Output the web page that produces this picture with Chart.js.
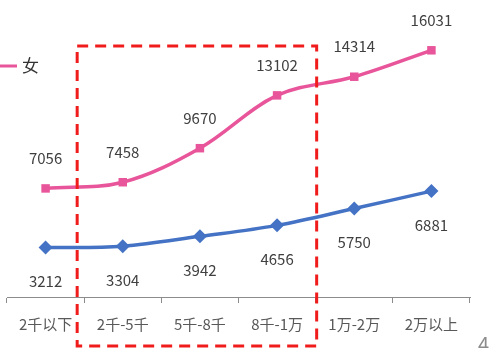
<!DOCTYPE html>
<html>
<head>
<meta charset="utf-8">
<script src="https://cdn.jsdelivr.net/npm/chart.js@4"></script>
<style>
  html, body { margin: 0; padding: 0; background: #fff; }
  #wrap { width: 493px; height: 348px; overflow: hidden; }
</style>
</head>
<body>
<div id="wrap"><canvas id="incomeChart" width="493" height="348"></canvas></div>
<script>
// income brackets on the x axis
const categories = ['2千以下', '2千-5千', '5千-8千', '8千-1万', '1万-2万', '2万以上'];
const femaleValues = [7056, 7458, 9670, 13102, 14314, 16031];
const maleValues = [3212, 3304, 3942, 4656, 5750, 6881];
const seriesNames = ['女', '男'];
// brackets inside the dashed box (first and last index)
const highlightRange = [1, 3];

const PINK = '#e8559a';
const BLUE = '#4472c4';
const FONT = "'Noto Sans CJK SC', 'Noto Sans', sans-serif";

// value labels: pink above the points, blue below
const valueLabels = {
    id: 'valueLabels',
    afterDatasetsDraw(chart) {
        const ctx = chart.ctx;
        ctx.save();
        ctx.font = '15px ' + FONT;
        ctx.fillStyle = '#404040';
        ctx.textAlign = 'center';
        ctx.textBaseline = 'middle';
        chart.data.datasets.forEach((ds, i) => {
            const meta = chart.getDatasetMeta(i);
            const dy = i === 0 ? -30 : 34;
            meta.data.forEach((pt, j) => {
                ctx.fillText(String(ds.data[j]), pt.x, pt.y + dy);
            });
        });
        ctx.restore();
    }
};

// red dashed frame around the middle brackets, legend entry, page number
const extras = {
    id: 'extras',
    afterDraw(chart) {
        const ctx = chart.ctx;
        const x = chart.scales.x;
        const left = x.getPixelForValue(highlightRange[0] - 0.5) - 7;
        const right = x.getPixelForValue(highlightRange[1] + 0.5) + 1;
        const top = chart.chartArea.top + 26;
        const bottom = chart.height - 2;
        ctx.save();
        ctx.strokeStyle = '#f01c1c';
        ctx.lineWidth = 3;
        ctx.setLineDash([11, 7]);
        ctx.strokeRect(left, top, right - left, bottom - top);
        ctx.setLineDash([]);

        // legend (only the first entry fits)
        ctx.strokeStyle = PINK;
        ctx.lineWidth = 3;
        ctx.beginPath();
        ctx.moveTo(0, 66);
        ctx.lineTo(17, 66);
        ctx.stroke();
        ctx.font = '17px ' + FONT;
        ctx.fillStyle = '#333';
        ctx.textBaseline = 'middle';
        ctx.fillText(seriesNames[0], 22, 66);

        ctx.font = '20px ' + FONT;
        ctx.fillStyle = '#8c8c8c';
        ctx.fillText('4', 478, 344);
        ctx.restore();
    }
};

new Chart(document.getElementById('incomeChart').getContext('2d'), {
    type: 'line',
    data: {
        labels: categories,
        datasets: [{
            label: seriesNames[0],
            data: femaleValues,
            borderColor: PINK,
            backgroundColor: PINK,
            borderWidth: 3.5,
            pointStyle: 'rect',
            pointRadius: 6,
            pointBorderWidth: 0,
            tension: 0.35
        }, {
            label: seriesNames[1],
            data: maleValues,
            borderColor: BLUE,
            backgroundColor: BLUE,
            borderWidth: 3.5,
            pointStyle: 'rectRot',
            pointRadius: 7,
            pointBorderWidth: 0,
            tension: 0.35
        }]
    },
    options: {
        responsive: false,
        animation: false,
        devicePixelRatio: 1,
        layout: { padding: { left: 6, right: 23, top: 20, bottom: 3 } },
        plugins: {
            legend: { display: false },
            tooltip: { enabled: false }
        },
        scales: {
            x: {
                offset: true,
                border: { display: true, color: '#8c8c8c', width: 1 },
                grid: {
                    display: true,
                    offset: true,
                    drawOnChartArea: false,
                    drawTicks: true,
                    tickLength: 6,
                    color: '#8c8c8c'
                },
                ticks: {
                    color: '#595959',
                    padding: 12,
                    font: { size: 15, family: FONT }
                }
            },
            y: {
                display: false,
                min: 0,
                max: 18000
            }
        }
    },
    plugins: [valueLabels, extras]
});
</script>
</body>
</html>
